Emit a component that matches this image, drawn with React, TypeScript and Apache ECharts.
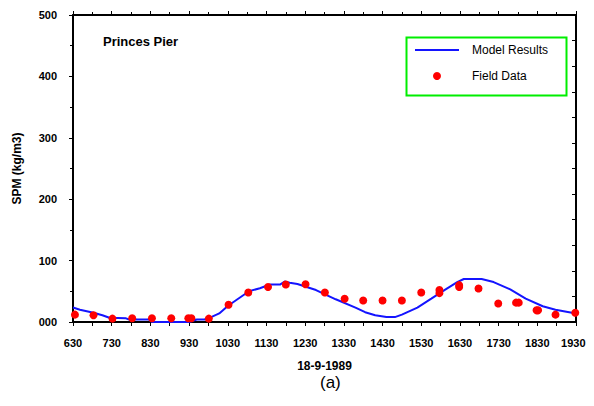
import React, { useEffect, useRef } from "react";
import * as echarts from "echarts";

const xTickLabels = ["630", "730", "830", "930", "1030", "1130", "1230", "1330", "1430", "1530", "1630", "1730", "1830", "1930"];
const yTickLabels = ["000", "100", "200", "300", "400", "500"];

// hours after 06:30
const modelHours = [0.0, 0.18, 0.53, 0.76, 0.94, 1.37, 1.45, 1.96, 2.04, 3.0, 3.2, 3.4, 3.57, 3.78, 4.0, 4.25, 4.55, 4.83, 5.09, 5.35, 5.47, 5.6, 5.8, 6.28, 6.79, 7.3, 7.55, 7.81, 8.1, 8.32, 8.5, 8.9, 9.26, 9.6, 9.93, 10.1, 10.56, 10.87, 11.3, 11.7, 12.14, 12.47, 13.0];
const modelSPM = [23.5, 20, 15, 11, 7, 6, 4, 4, 0, 0, 4, 4, 8, 14, 26, 37, 50, 55, 61, 61, 66, 64, 62, 52, 37, 23.5, 16, 11, 8, 8, 12, 23.5, 38, 52, 65, 70, 70, 65, 53, 38, 25.6, 20, 14];

const fieldHours = [0.05, 0.53, 1.02, 1.53, 2.04, 2.54, 2.98, 3.06, 3.51, 4.02, 4.53, 5.04, 5.5, 6.01, 6.51, 7.02, 7.5, 8.0, 8.5, 9.0, 9.47, 9.47, 9.98, 9.98, 10.48, 10.99, 11.45, 11.52, 11.98, 12.02, 12.47, 12.98];
const fieldSPM = [12, 11, 5.5, 6, 6, 6, 6, 6, 5.5, 28, 48, 57, 61, 61.5, 48, 38, 35, 35, 35, 48, 52, 47, 60, 57, 54.5, 30, 31.5, 31.5, 19, 19, 12, 15];

const FONT = "'Liberation Sans', Arial, sans-serif";
const BLUE = "#1414ff";
const RED = "#ff0000";

export default function App() {
  const ref = useRef<HTMLDivElement>(null);
  useEffect(() => {
    if (!ref.current) return;
    const chart = echarts.init(ref.current, null, { renderer: "svg" });
    const axisLine = { show: true, onZero: false, lineStyle: { color: "#000", width: 2 } };
    const tick = { show: true, inside: false, length: 4, lineStyle: { color: "#000", width: 1 } };
    const legendText = { fontFamily: FONT, fontSize: 12, color: "#000", padding: [0, 0, 0, 8] };
    chart.setOption({
      animation: false,
      backgroundColor: "#fff",
      textStyle: { fontFamily: FONT },
      grid: { left: 73, right: 10, top: 15, bottom: 84 },
      legend: [
        {
          orient: "vertical",
          left: 415,
          top: 44,
          padding: 0,
          itemWidth: 44,
          itemHeight: 2,
          icon: "rect",
          textStyle: legendText,
          data: [{ name: "Model Results", itemStyle: { color: BLUE } }],
        },
        {
          orient: "vertical",
          left: 433,
          top: 70,
          padding: 0,
          itemWidth: 44,
          itemHeight: 8,
          icon: "circle",
          textStyle: legendText,
          data: [{ name: "Field Data", itemStyle: { color: RED } }],
        },
      ],
      xAxis: [
        {
          type: "value",
          position: "bottom",
          min: 0,
          max: 13,
          interval: 1,
          name: "18-9-1989",
          nameLocation: "middle",
          nameGap: 38,
          nameTextStyle: { fontFamily: FONT, fontSize: 12, fontWeight: "bold", color: "#000" },
          axisLine,
          axisTick: tick,
          minorTick: { show: true, splitNumber: 2, length: 4, lineStyle: { color: "#000", width: 1 } },
          axisLabel: {
            margin: 15,
            fontFamily: FONT,
            fontSize: 11,
            fontWeight: "bold",
            color: "#000",
            formatter: (v: number) => {
              const i = Math.round(v);
              const s = xTickLabels[i] ?? "";
              return i === xTickLabels.length - 1 ? s + "\u2002" : s;
            },
          },
          splitLine: { show: false },
        },
        {
          type: "value",
          position: "top",
          min: 0,
          max: 13,
          interval: 1,
          axisLine,
          axisTick: tick,
          minorTick: { show: true, splitNumber: 2, length: 3, lineStyle: { color: "#000", width: 1 } },
          axisLabel: { show: false },
          splitLine: { show: false },
        },
      ],
      yAxis: [
        {
          type: "value",
          position: "left",
          min: 0,
          max: 500,
          interval: 100,
          name: "SPM (kg/m3)",
          nameLocation: "middle",
          nameGap: 50,
          nameTextStyle: { fontFamily: FONT, fontSize: 12, fontWeight: "bold", color: "#000" },
          axisLine,
          axisTick: tick,
          minorTick: { show: true, splitNumber: 2, length: 3, lineStyle: { color: "#000", width: 1 } },
          axisLabel: {
            margin: 16,
            fontFamily: FONT,
            fontSize: 11,
            fontWeight: "bold",
            color: "#000",
            formatter: (v: number) => yTickLabels[Math.round(v / 100)] ?? "",
          },
          splitLine: { show: false },
        },
        {
          type: "value",
          position: "right",
          min: 0,
          max: 12,
          interval: 1,
          axisLine,
          axisTick: { show: true, inside: true, length: 4, lineStyle: { color: "#000", width: 1 } },
          axisLabel: { show: false },
          splitLine: { show: false },
        },
      ],
      graphic: [
        {
          type: "rect",
          left: 404,
          top: 35,
          shape: { width: 160, height: 58 },
          style: { fill: "none", stroke: "#00ee00", lineWidth: 2 },
          z: 10,
        },
        {
          type: "text",
          left: 103,
          top: 35,
          style: { text: "Princes Pier", font: `bold 13px ${FONT}`, fill: "#000" },
        },
        {
          type: "text",
          left: 320,
          top: 374,
          style: { text: "(a)", font: `17px ${FONT}`, fill: "#000" },
        },
      ],
      series: [
        {
          name: "Model Results",
          type: "line",
          xAxisIndex: 0,
          yAxisIndex: 0,
          symbol: "none",
          lineStyle: { color: BLUE, width: 2 },
          itemStyle: { color: BLUE },
          data: modelHours.map((h, i) => [h, modelSPM[i]]),
          z: 3,
        },
        {
          name: "Field Data",
          type: "scatter",
          xAxisIndex: 0,
          yAxisIndex: 0,
          symbol: "circle",
          symbolSize: 8,
          itemStyle: { color: RED, opacity: 1 },
          data: fieldHours.map((h, i) => [h, fieldSPM[i]]),
          z: 4,
        },
      ],
    });
    return () => chart.dispose();
  }, []);
  return <div ref={ref} style={{ width: 594, height: 406, margin: -8 }} />;
}
